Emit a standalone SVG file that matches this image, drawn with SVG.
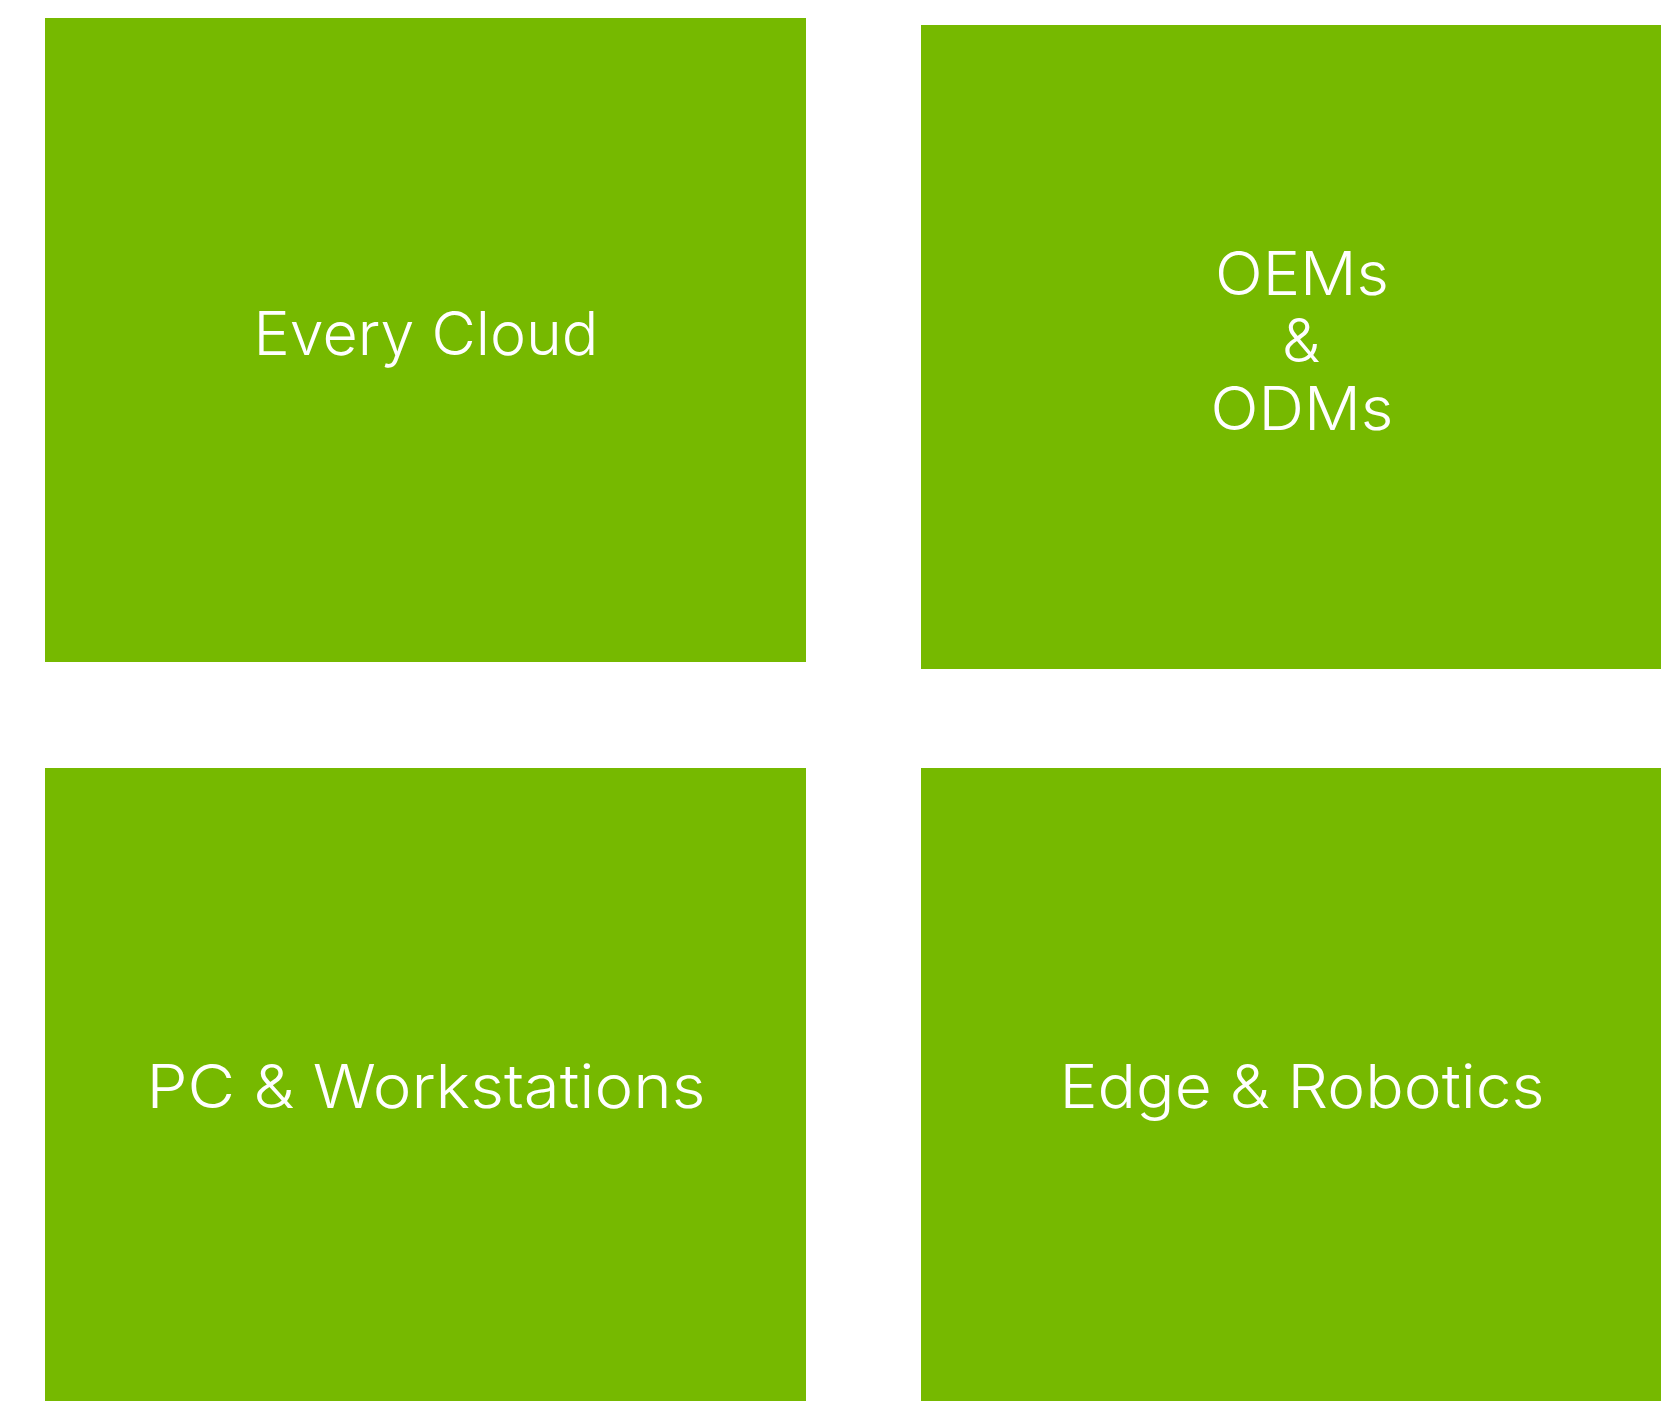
<svg xmlns="http://www.w3.org/2000/svg" width="1661" height="1401" viewBox="0 0 1661 1401">
<style>
.box{fill:#76b900}
.lbl{fill:#ffffff;font-family:Inter,"Liberation Sans",Arial,sans-serif;font-weight:300;font-size:61px;text-anchor:middle}
</style>
<rect width="1661" height="1401" fill="#ffffff"/>
<g id="every-cloud">
<rect class="box" x="45" y="18" width="761" height="644"/>
<text class="lbl" x="426" y="355" textLength="345" lengthAdjust="spacingAndGlyphs">Every Cloud</text>
</g>
<g id="oems-odms">
<rect class="box" x="921" y="25" width="761" height="644"/>
<text class="lbl" x="1302" y="295" textLength="174" lengthAdjust="spacingAndGlyphs">OEMs</text>
<text class="lbl" x="1301" y="362">&amp;</text>
<text class="lbl" x="1302" y="430" textLength="183" lengthAdjust="spacingAndGlyphs">ODMs</text>
</g>
<g id="pc-workstations">
<rect class="box" x="45" y="768" width="761" height="644"/>
<text class="lbl" x="426" y="1108" textLength="559" lengthAdjust="spacingAndGlyphs">PC &amp; Workstations</text>
</g>
<g id="edge-robotics">
<rect class="box" x="921" y="768" width="761" height="644"/>
<text class="lbl" x="1302" y="1108" textLength="485" lengthAdjust="spacingAndGlyphs">Edge &amp; Robotics</text>
</g>
<g id="connectors"/>
</svg>
